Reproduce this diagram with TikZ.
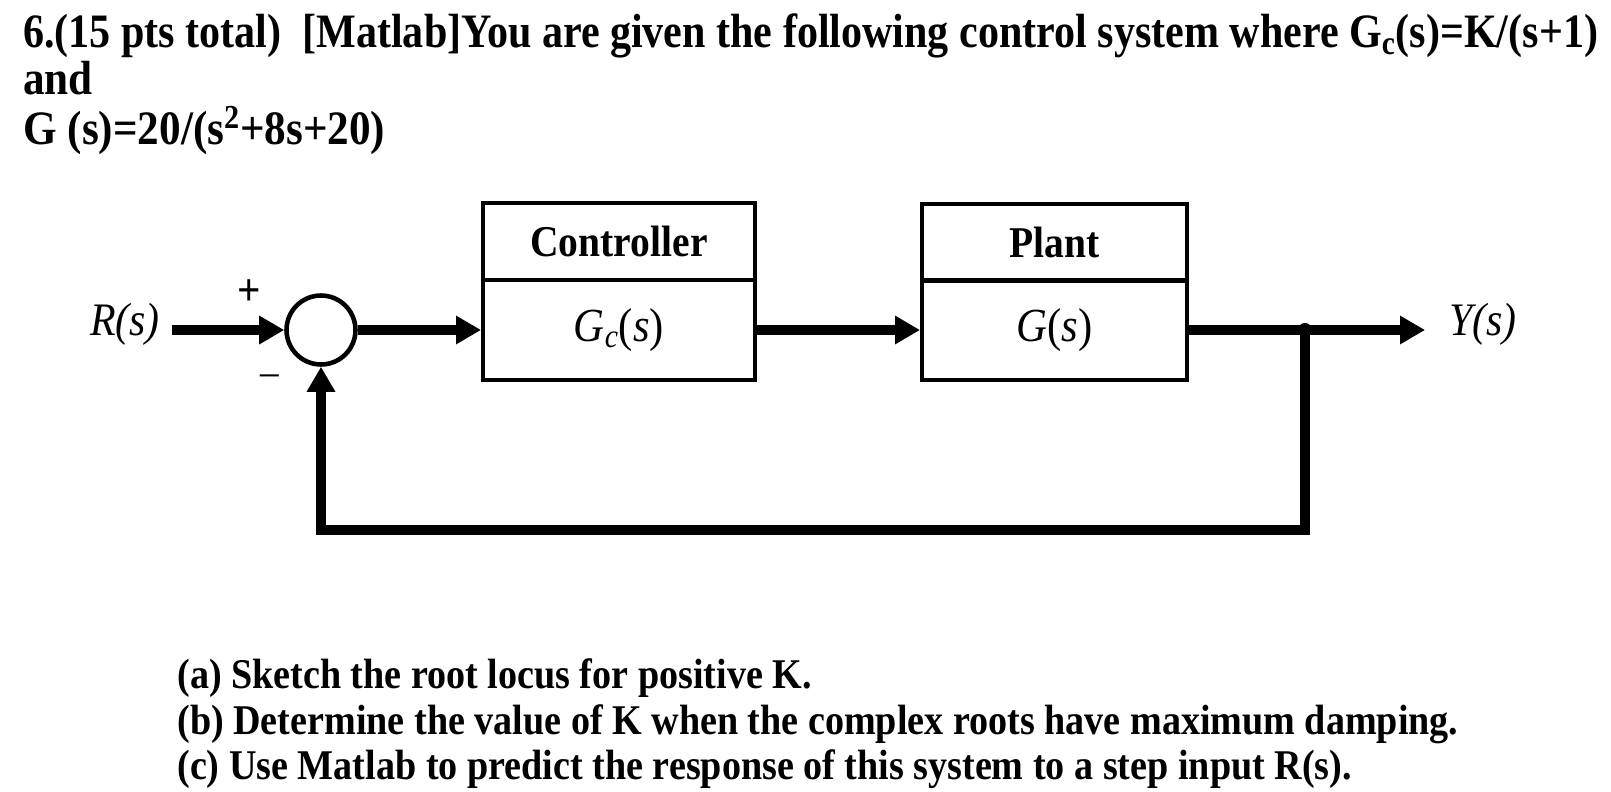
\documentclass[tikz,border=0pt]{standalone}
\usepackage{fontspec}
\setmainfont{Liberation Serif}[FakeStretch=0.9]
\usetikzlibrary{arrows.meta, positioning}

\begin{document}
\begin{tikzpicture}[
    x=0.02cm, y=-0.02cm,
    >={Triangle[length=0.5cm, width=0.54cm]},
    question/.style={anchor=base west, inner sep=0pt, font=\bfseries\fontsize{27.3}{30}\selectfont},
    part/.style={anchor=base west, inner sep=0pt, font=\bfseries\fontsize{24.1}{27}\selectfont},
    block head/.style={draw, line width=2.3pt, minimum height=1.54cm, font=\bfseries\fontsize{25}{28}\selectfont},
    block body/.style={draw, line width=2.3pt, minimum height=2cm, font=\fontsize{27}{30}\selectfont},
    sum node/.style={draw, circle, line width=2.6pt, minimum size=1.38cm, inner sep=0pt},
    signal label/.style={font=\itshape\fontsize{26.5}{29}\selectfont},
    signal/.style={line width=5.4pt}
]
\useasboundingbox (0,0) rectangle (1611,791);

% Question text
\node[question] (q1) at (23,48) {\resizebox{31.5cm}{\height}{6.(15 pts total)\ \ [Matlab]You are given the following control system where G\textsubscript{c}(s)=K/(s+1)}};
\node[question] (q2) at (23,94) {and};
\node[question] (q3) at (23,144) {G (s)=20/(s\textsuperscript{2}+8s+20)};

% Blocks
\node[block head, minimum width=5.44cm] (ctrlhead) at (619,241.5) {Controller};
\node[block body, minimum width=5.44cm] (ctrl) at (619,330) {\textit{G\textsubscript{c}}(\textit{s})};
\node[block head, minimum width=5.3cm] (planthead) at (1054.5,242.5) {Plant};
\node[block body, minimum width=5.3cm] (plant) at (1054.5,330) {\textit{G}(\textit{s})};

% Summing junction and signals
\node[sum node] (sum) at (321,330) {};
\node[signal label] (rin) at (125,324) {R(s)};
\node[signal label] (yout) at (1483,324) {Y(s)};
\node[font=\bfseries\fontsize{26}{28}\selectfont] (plus) at (249,293) {+};
\node[font=\fontsize{23.5}{26}\selectfont] (minus) at (270,380) {--};

\coordinate (branch) at (1305,330);
\coordinate (ytip) at (1425,330);
\coordinate (fbturn) at (1305,530);

\draw[signal,->,shorten <=0.12cm] (rin.east |- sum.west) -- (sum.west);
\draw[signal,->] (sum.east) -- (ctrl.west);
\draw[signal,->] (ctrl.east) -- (plant.west);
\draw[signal,->] (plant.east) -- (ytip);
\draw[signal,->] (branch) -- (fbturn) -| (sum.south);
\fill (branch) circle (4pt);

% Parts
\node[part] (pa) at (177,688) {(a) Sketch the root locus for positive K.};
\node[part] (pb) at (177,734) {(b) Determine the value of K when the complex roots have maximum damping.};
\node[part] (pc) at (177,779) {(c) Use Matlab to predict the response of this system to a step input R(s).};

\end{tikzpicture}
\end{document}
